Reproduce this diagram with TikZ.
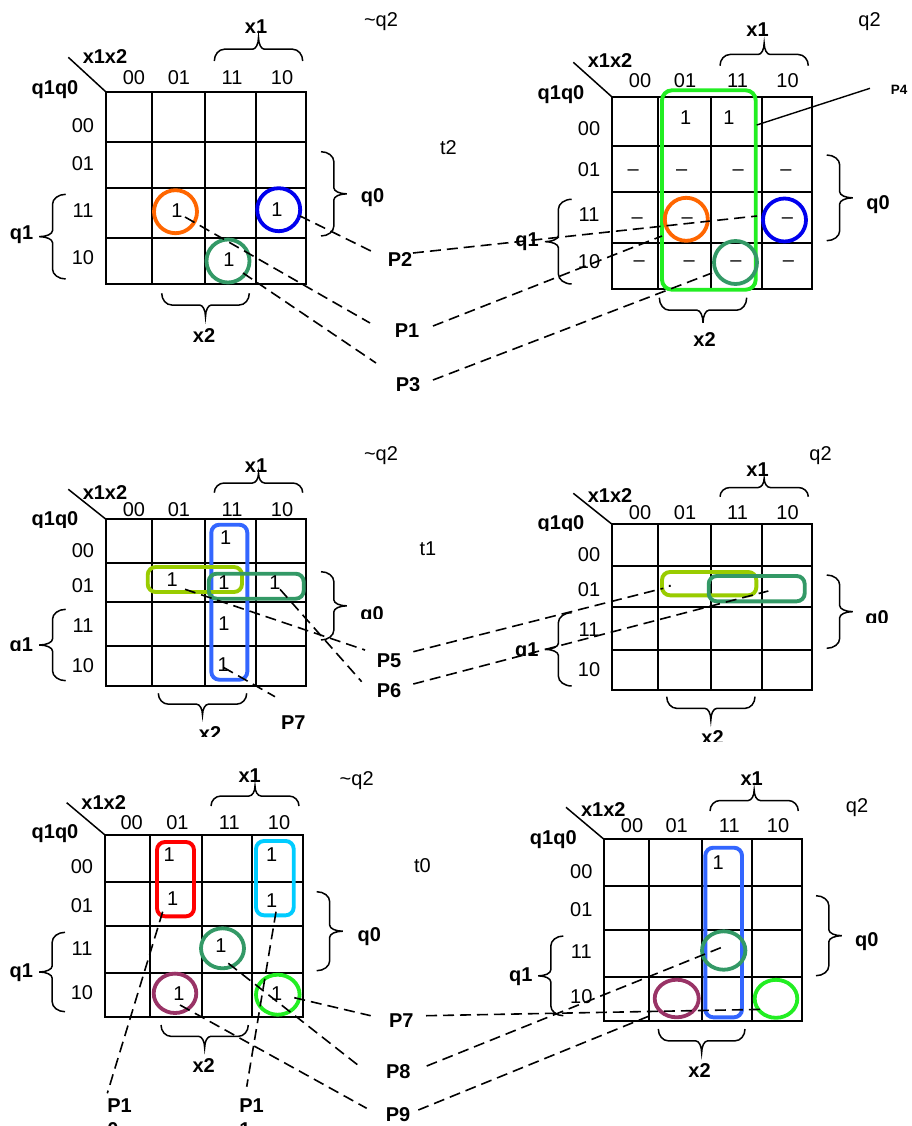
\documentclass[tikz,border=0pt]{standalone}
\usepackage{fontspec}
\setmainfont{Liberation Sans}
\usetikzlibrary{calc}

\definecolor{corange}{HTML}{FF6600}
\definecolor{cblue}{HTML}{0000EE}
\definecolor{csea}{HTML}{339966}
\definecolor{cbright}{HTML}{22EE22}
\definecolor{croyal}{HTML}{3366FF}
\definecolor{cyg}{HTML}{99CC00}
\definecolor{cred}{HTML}{FF0000}
\definecolor{ccyan}{HTML}{00CCFF}
\definecolor{cplum}{HTML}{993366}

\newcommand{\kfs}{\fontsize{20}{24}\selectfont}
\newcommand{\kfsp}{\fontsize{13.5}{16}\selectfont}

% horizontal brace: xa xb y depth(signed, tip at y+depth)
\newcommand{\khbrace}[4]{%
 \pgfmathsetmacro\kba{#1}\pgfmathsetmacro\kbb{#2}\pgfmathsetmacro\kbm{(#1+#2)/2}%
 \pgfmathsetmacro\kyA{#3+0.55*(#4)/2}\pgfmathsetmacro\kyB{#3+(#4)/2}%
 \pgfmathsetmacro\kyC{#3+1.45*(#4)/2}\pgfmathsetmacro\kyD{#3+(#4)}\pgfmathsetmacro\kyO{#3}%
 \draw[brc] (\kba,\kyO) .. controls (\kba,\kyA) and (\kba+4.5,\kyB) .. (\kba+10,\kyB)
   -- (\kbm-6,\kyB) .. controls (\kbm-2.7,\kyB) and (\kbm,\kyC) .. (\kbm,\kyD)
   .. controls (\kbm,\kyC) and (\kbm+2.7,\kyB) .. (\kbm+6,\kyB)
   -- (\kbb-10,\kyB) .. controls (\kbb-4.5,\kyB) and (\kbb,\kyA) .. (\kbb,\kyO);}
% vertical brace: ya yb x depth(signed, tip at x+depth)
\newcommand{\kvbrace}[4]{%
 \pgfmathsetmacro\kba{#1}\pgfmathsetmacro\kbb{#2}\pgfmathsetmacro\kbm{(#1+#2)/2}%
 \pgfmathsetmacro\kyA{#3+0.55*(#4)/2}\pgfmathsetmacro\kyB{#3+(#4)/2}%
 \pgfmathsetmacro\kyC{#3+1.45*(#4)/2}\pgfmathsetmacro\kyD{#3+(#4)}\pgfmathsetmacro\kyO{#3}%
 \draw[brc] (\kyO,\kba) .. controls (\kyA,\kba) and (\kyB,\kba+4.5) .. (\kyB,\kba+10)
   -- (\kyB,\kbm-6) .. controls (\kyB,\kbm-2.7) and (\kyC,\kbm) .. (\kyD,\kbm)
   .. controls (\kyC,\kbm) and (\kyB,\kbm+2.7) .. (\kyB,\kbm+6)
   -- (\kyB,\kbb-10) .. controls (\kyB,\kbb-4.5) and (\kyA,\kbb) .. (\kyO,\kbb);}
% grid: {x0/x1/x2/x3/x4}{y0/y1/y2/y3/y4}
\def\kgridx#1/#2/#3/#4/#5\relax{\def\kxa{#1}\def\kxb{#2}\def\kxc{#3}\def\kxd{#4}\def\kxe{#5}}
\def\kgridy#1/#2/#3/#4/#5\relax{\def\kya{#1}\def\kyb{#2}\def\kyc{#3}\def\kyd{#4}\def\kye{#5}}
\newcommand{\kgrid}[2]{%
 \kgridx#1\relax\kgridy#2\relax
 \draw[grd] (\kxa,\kya) rectangle (\kxe,\kye);
 \draw[grd] (\kxb,\kya) -- (\kxb,\kye) (\kxc,\kya) -- (\kxc,\kye) (\kxd,\kya) -- (\kxd,\kye)
   (\kxa,\kyb) -- (\kxe,\kyb) (\kxa,\kyc) -- (\kxe,\kyc) (\kxa,\kyd) -- (\kxe,\kyd);}

\tikzset{
 grd/.style={line width=2pt},
 lab/.style={inner sep=0pt, outer sep=0pt, anchor=base, font=\kfs},
 blab/.style={lab, font=\kfs\bfseries},
 ring/.style={line width=3.8pt},
 rbox/.style={line width=3.9pt, rounded corners=8pt},
 dsh/.style={line width=1.6pt, dash pattern=on 11pt off 6pt},
 brc/.style={line width=1.5pt},
 dia/.style={line width=1.5pt},
}

\begin{document}
\begin{tikzpicture}[x=1pt,y=-1pt]
\useasboundingbox (0,0) rectangle (912,1126);
\clip (0,0) rectangle (912,1126);
\fill[white] (0,0) rectangle (912,1126);

%================ TL map (t2, ~q2) ================
\kgrid{106/152/205/256/306}{92/142/188/238/284}
\draw[dia] (68.3,57.3) -- (106,92);
\node[lab] (a00) at (134,84.3) {00};
\node[lab] (a01) at (179,84.3) {01};
\node[lab] (a11) at (232,84.3) {11};
\node[lab] (a10) at (282,84.3) {10};
\node[lab] (ar00) at (83,132.6) {00};
\node[lab] (ar01) at (83,171) {01};
\node[lab] (ar11) at (83,217.6) {11};
\node[lab] (ar10) at (83,264.3) {10};
\node[blab] (ax1x2) at (105,63.6) {x1x2};
\node[blab] (aq1q0) at (55,94.3) {q1q0};
\khbrace{214.3}{302.7}{61}{-23.5}
\node[blab] (ax1) at (256,33.6) {x1};
\kvbrace{151.7}{236}{321}{25.7}
\node[blab] (aq0) at (372.5,202.6) {q0};
\kvbrace{194.3}{279}{65.7}{-26.4}
\node[blab] (aq1) at (21.5,239.3) {q1};
\khbrace{161.7}{249.3}{293.3}{23.4}
\node[blab] (ax2) at (204,342.6) {x2};
\node[lab] (anq2) at (381,27) {\textasciitilde q2};
\node[lab] (at2) at (448.5,155) {t2};
\draw[ring,corange] (175.5,211.7) circle[radius=21.5];
\draw[ring,cblue] (278.7,209.7) circle[radius=21.5];
\draw[ring,csea] (228,261) circle[radius=21.5];
\node[lab] (ac1) at (177,217.6) {1};
\node[lab] (ac2) at (277,216) {1};
\node[lab] (ac3) at (229,266) {1};
\node[blab] (aP2) at (400,266) {P2};
\node[blab] (aP1) at (407,337) {P1};
\begin{scope}
\clip (0,0) rectangle (912,390);
\node[blab] (aP3) at (408,391) {P3};
\end{scope}
\coordinate (aL1s) at (300,216);   \coordinate (aL1e) at (373,252);
\coordinate (aL2s) at (185,217);   \coordinate (aL2e) at (370,323);
\coordinate (aL3s) at (243,273);   \coordinate (aL3e) at (376,363);
\draw[dsh] (aL1s) -- (aL1e);
\draw[dsh] (aL2s) -- (aL2e);
\draw[dsh] (aL3s) -- (aL3e);

%================ TR map (q2) ================
\kgrid{611.7/658.3/711/761.7/812.3}{96.7/145.7/192.3/242.7/289}
\draw[dia] (573.3,62.3) -- (611.7,96.7);
\node[lab] (b00) at (640,87.6) {00};
\node[lab] (b01) at (685,87.6) {01};
\node[lab] (b11) at (737.5,87.6) {11};
\node[lab] (b10) at (787.5,87.6) {10};
\node[lab] (br00) at (589,136) {00};
\node[lab] (br01) at (589,176) {01};
\node[lab] (br11) at (589,221.6) {11};
\node[lab] (br10) at (589,268.3) {10};
\node[blab] (bx1x2) at (610,67.6) {x1x2};
\node[blab] (bq1q0) at (561,99.3) {q1q0};
\khbrace{720}{808.3}{65.7}{-22.4}
\node[blab] (bx1) at (757.5,37) {x1};
\kvbrace{155}{240.7}{826.7}{26}
\node[blab] (bq0) at (878,209.3) {q0};
\kvbrace{199.3}{284}{571.7}{-26.7}
\node[blab] (bq1) at (527,246) {q1};
\khbrace{659.3}{746.7}{297.7}{25}
\node[blab] (bx2) at (704.5,346) {x2};
\node[lab] (bq2) at (869.5,27) {q2};
\draw[rbox,cbright,rounded corners=10pt] (662,90.3) rectangle (755.7,289.7);
\draw[ring,corange] (686.3,219.3) circle[radius=21.5];
\draw[ring,cblue] (784.5,220) circle[radius=21.5];
\draw[ring,csea] (735.5,262.5) circle[radius=21.5];
\node[lab] (bc1) at (685.7,124.3) {1};
\node[lab] (bc2) at (729,124.3) {1};
\foreach \dx/\dy [count=\i] in {633.3/170,681.7/170,738.3/170,786/170,
  637.3/218.3,687.3/218.3,787.3/218.3,
  639.3/260.7,689.3/260.7,736/260.7,788.3/260.7}
  \node[lab] (bd\i) at (\dx,\dy+5.5) {–};
\node[lab,font=\kfsp\bfseries] (bP4) at (899,95) {P4};
\coordinate (bP4s) at (870,88.3); \coordinate (bP4e) at (756.7,125);
\draw[line width=1.4pt] (bP4s) -- (bP4e);
\coordinate (bL1s) at (413,253);   \coordinate (bL1e) at (757,216);
\coordinate (bL2s) at (433,326);   \coordinate (bL2e) at (662,236);
\coordinate (bL3s) at (433,380);   \coordinate (bL3e) at (712,273);
\draw[dsh] (bL1s) -- (bL1e);
\draw[dsh] (bL2s) -- (bL2e);
\draw[dsh] (bL3s) -- (bL3e);

%================ ML map (t1, ~q2) ================
\kgrid{106/152/205/256/306}{519.3/562.7/602.3/645.7/686}
\draw[dia] (68.3,489.3) -- (106,519.3);
\node[lab] (c00) at (134,516) {00};
\node[lab] (c01) at (179,516) {01};
\node[lab] (c11) at (232,516) {11};
\node[lab] (c10) at (282,516) {10};
\node[lab] (cr00) at (83,557.6) {00};
\node[lab] (cr01) at (83,592.6) {01};
\node[lab] (cr11) at (83,632.6) {11};
\node[lab] (cr10) at (83,672.6) {10};
\node[blab] (cx1x2) at (105,499.3) {x1x2};
\begin{scope}\clip (0,0) rectangle (912,527);
\node[blab] (cq1q0) at (55,525.5) {q1q0};\end{scope}
\khbrace{214.3}{302.7}{492.7}{-19.4}
\node[blab] (cx1) at (256,472.6) {x1};
\kvbrace{571.7}{640}{321}{25.7}
\begin{scope}\clip (0,0) rectangle (912,618.5);
\node[blab] (cq0) at (372,620) {q0};\end{scope}
\kvbrace{609.3}{680.7}{65.7}{-26.4}
\begin{scope}\clip (0,0) rectangle (912,650);
\node[blab] (cq1) at (21.3,651) {q1};\end{scope}
\khbrace{158.3}{246.7}{693.3}{21.7}
\begin{scope}\clip (0,0) rectangle (912,736.7);
\node[blab] (cx2) at (210,740.3) {x2};\end{scope}
\node[lab] (cnq2) at (381,460.3) {\textasciitilde q2};
\node[lab] (ct1) at (428,555) {t1};
\draw[rbox,croyal] (211.3,524.7) rectangle (247.3,679.7);
\draw[rbox,cyg] (147.7,567) rectangle (242,592);
\draw[rbox,csea] (208.7,573.7) rectangle (303.7,598.7);
\node[lab] (cc1) at (225.7,544.3) {1};
\node[lab] (cc2) at (172.3,586) {1};
\node[lab] (cc3) at (224,589.3) {1};
\node[lab] (cc4) at (275,589.3) {1};
\node[lab] (cc5) at (224,630.3) {1};
\node[lab] (cc6) at (223.3,671) {1};
\node[blab] (cP5) at (389,667) {P5};
\node[blab] (cP6) at (389,697.6) {P6};
\node[blab] (cP7) at (293.3,729.3) {P7};
\coordinate (cL1s) at (185,589.3);   \coordinate (cL1e) at (365,650);
\coordinate (cL2s) at (280,589.3);   \coordinate (cL2e) at (361.7,681.7);
\coordinate (cL3s) at (223.3,667.3); \coordinate (cL3e) at (275,696.7);
\draw[dsh] (cL1s) -- (cL1e);
\draw[dsh] (cL2s) -- (cL2e);
\draw[dsh] (cL3s) -- (cL3e);

%================ MR map (q2) ================
\kgrid{611.7/657.7/711/761.7/812.3}{524/566/606.7/650/690}
\draw[dia] (573.3,493.3) -- (611.7,524);
\node[lab] (d00) at (640,519.3) {00};
\node[lab] (d01) at (685,519.3) {01};
\node[lab] (d11) at (737.5,519.3) {11};
\node[lab] (d10) at (787.5,519.3) {10};
\node[lab] (dr00) at (589,561.6) {00};
\node[lab] (dr01) at (589,596) {01};
\node[lab] (dr11) at (589,636) {11};
\node[lab] (dr10) at (589,676) {10};
\node[blab] (dx1x2) at (610,502.6) {x1x2};
\begin{scope}\clip (0,0) rectangle (912,530.5);
\node[blab] (dq1q0) at (561,529.5) {q1q0};\end{scope}
\khbrace{720}{808.3}{496.7}{-18.4}
\node[blab] (dx1) at (757.5,476) {x1};
\kvbrace{575}{648.3}{826.7}{26}
\begin{scope}\clip (0,0) rectangle (912,622.7);
\node[blab] (dq0) at (877,624.3) {q0};\end{scope}
\kvbrace{612.7}{686}{571.7}{-26.7}
\begin{scope}\clip (0,0) rectangle (912,655);
\node[blab] (dq1) at (526.7,656) {q1};\end{scope}
\khbrace{666.7}{755}{696.7}{23.3}
\begin{scope}\clip (0,0) rectangle (912,741.7);
\node[blab] (dx2) at (712.5,744.3) {x2};\end{scope}
\node[lab] (dq2) at (820.5,460.3) {q2};
\draw[rbox,cyg] (662,572) rectangle (756.3,595.3);
\draw[rbox,csea] (708.7,576) rectangle (804.7,601.3);
\node[lab] (ddot) at (670,587) {.};
\coordinate (dL1s) at (413.3,651.7); \coordinate (dL1e) at (663.3,588.3);
\coordinate (dL2s) at (413.3,684);   \coordinate (dL2e) at (768.3,591);
\draw[dsh] (dL1s) -- (dL1e);
\draw[dsh] (dL2s) -- (dL2e);

%================ BL map (t0, ~q2) ================
\kgrid{105/150/202.3/252.3/302.7}{835/882.3/925.7/972.7/1016.7}
\draw[dia] (66.7,802.7) -- (105,835);
\node[lab] (e00) at (131.7,829.3) {00};
\node[lab] (e01) at (177.5,829.3) {01};
\node[lab] (e11) at (229.3,829.3) {11};
\node[lab] (e10) at (279,829.3) {10};
\node[lab] (er00) at (82,873.6) {00};
\node[lab] (er01) at (82,912) {01};
\node[lab] (er11) at (82,955) {11};
\node[lab] (er10) at (82,999.3) {10};
\node[blab] (ex1x2) at (103.7,809.3) {x1x2};
\node[blab] (eq1q0) at (55,838.3) {q1q0};
\khbrace{211}{299}{806}{-20}
\node[blab] (ex1) at (249.7,782.6) {x1};
\kvbrace{891.7}{970.7}{316.7}{26}
\node[blab] (eq0) at (369.3,941) {q0};
\kvbrace{932.3}{1011.7}{65}{-25.7}
\node[blab] (eq1) at (21.3,977.6) {q1};
\khbrace{161}{248.3}{1025}{22.7}
\node[blab] (ex2) at (203.7,1072.6) {x2};
\node[lab] (enq2) at (356.7,785) {\textasciitilde q2};
\node[lab] (et0) at (422.5,872.3) {t0};
\draw[rbox,cred] (157,842) rectangle (194,916.3);
\draw[rbox,ccyan] (256,841) rectangle (293.7,915.3);
\draw[ring,csea] (222.5,948.3) circle[x radius=21.5,y radius=20];
\draw[ring,cplum] (175,993.3) circle[x radius=21.3,y radius=19.7];
\draw[ring,cbright] (277.8,994.7) circle[x radius=21.8,y radius=20];
\node[lab] (ec1) at (169.3,861) {1};
\node[lab] (ec2) at (172.7,905.3) {1};
\node[lab] (ec3) at (271.7,861) {1};
\node[lab] (ec4) at (271.7,907.6) {1};
\node[lab] (ec5) at (221,952.6) {1};
\node[lab] (ec6) at (179,1000) {1};
\node[lab] (ec7) at (276.7,1000) {1};
\node[blab] (eP7) at (401.3,1027.6) {P7};
\node[blab] (eP8) at (398.3,1078.3) {P8};
\node[blab] (eP9) at (398,1121) {P9};
\node[blab,anchor=north west,align=left] (eP10) at (107.3,1098.4) {P1\\0};
\node[blab,anchor=north west,align=left] (eP11) at (239.3,1098.4) {P1\\1};
\coordinate (eL1s) at (162.7,911.7); \coordinate (eL1e) at (107.3,1093.3);
\coordinate (eL2s) at (276,911.7);   \coordinate (eL2e) at (246.7,1086.7);
\coordinate (eL3s) at (294.3,997.7); \coordinate (eL3e) at (370.7,1015.7);
\coordinate (eL4s) at (228.3,963.3); \coordinate (eL4e) at (360,1066.7);
\coordinate (eL5s) at (180,1005);    \coordinate (eL5e) at (366.7,1108.3);
\draw[dsh] (eL1s) -- (eL1e);
\draw[dsh] (eL2s) -- (eL2e);
\draw[dsh] (eL3s) -- (eL3e);
\draw[dsh] (eL4s) -- (eL4e);
\draw[dsh] (eL5s) -- (eL5e);

%================ BR map (q2) ================
\kgrid{604/649/702.3/751.7/801.7}{839.3/886/930/977.3/1020.7}
\draw[dia] (566,807.3) -- (604,839.3);
\node[lab] (f00) at (632,832.6) {00};
\node[lab] (f01) at (676.7,832.6) {01};
\node[lab] (f11) at (729.3,832.6) {11};
\node[lab] (f10) at (778,832.6) {10};
\node[lab] (fr00) at (581.3,878.6) {00};
\node[lab] (fr01) at (581.3,916) {01};
\node[lab] (fr11) at (581.3,958.6) {11};
\node[lab] (fr10) at (581.3,1003.6) {10};
\node[blab] (fx1x2) at (603.3,816) {x1x2};
\node[blab] (fq1q0) at (553.3,844.3) {q1q0};
\khbrace{710}{798.3}{811}{-21}
\node[blab] (fx1) at (751.7,785) {x1};
\kvbrace{895.7}{975.7}{816}{25.7}
\node[blab] (fq0) at (866.7,946) {q0};
\kvbrace{936}{1015.7}{563.3}{-25}
\node[blab] (fq1) at (520.8,981) {q1};
\khbrace{658.3}{745}{1029}{23.7}
\node[blab] (fx2) at (699.5,1077) {x2};
\node[lab] (fq2) at (857,812.6) {q2};
\draw[rbox,croyal] (705.3,847.7) rectangle (742,1017.3);
\draw[ring,csea] (723.7,950.5) circle[x radius=21.7,y radius=19.2];
\draw[ring,cplum] (676.7,998.5) circle[x radius=22,y radius=18.8];
\draw[ring,cbright] (776,998.8) circle[x radius=21.3,y radius=19];
\node[lab] (fc1) at (718.3,869.3) {1};
\coordinate (fL1s) at (426,1015.7);   \coordinate (fL1e) at (764.3,1009.3);
\coordinate (fL2s) at (426.7,1066);   \coordinate (fL2e) at (725,946);
\coordinate (fL3s) at (418.3,1110);   \coordinate (fL3e) at (651.7,1015);
\draw[dsh] (fL1s) -- (fL1e);
\draw[dsh] (fL2s) -- (fL2e);
\draw[dsh] (fL3s) -- (fL3e);
\end{tikzpicture}
\end{document}
